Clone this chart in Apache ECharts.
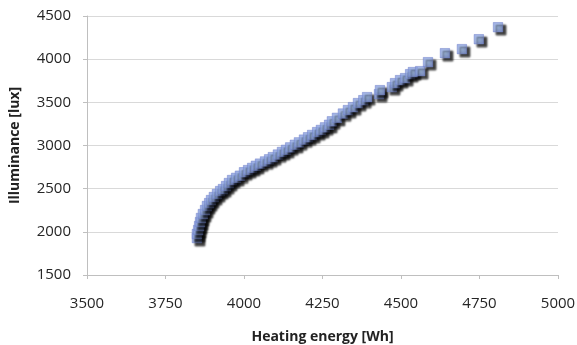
<!DOCTYPE html>
<html>
<head>
<meta charset="utf-8">
<script src="https://cdn.jsdelivr.net/npm/echarts@6/dist/echarts.min.js"></script>
<style>
  html, body { margin: 0; padding: 0; background: #fff; }
  #chart { width: 577px; height: 345px; }
</style>
</head>
<body>
<div id="chart"></div>
<script>
// values
var heatingEnergy = [
    3850, 3850, 3854, 3857, 3860, 3863, 3869, 3876, 3882, 3889,
    3895, 3904, 3914, 3924, 3933, 3943, 3952, 3962, 3975, 3987,
    4000, 4013, 4026, 4038, 4051, 4067, 4080, 4092, 4108, 4121,
    4134, 4147, 4162, 4175, 4191, 4204, 4217, 4233, 4245, 4258,
    4271, 4280, 4296, 4315, 4331, 4347, 4363, 4380, 4392, 4430,
    4433, 4471, 4481, 4497, 4513, 4529, 4538, 4561, 4586, 4640,
    4694, 4748, 4809
];
var illuminance = [
    1928, 1975, 2021, 2067, 2113, 2160, 2206, 2252, 2299, 2333,
    2368, 2403, 2438, 2472, 2495, 2530, 2565, 2600, 2625, 2650,
    2690, 2715, 2740, 2765, 2790, 2815, 2840, 2865, 2895, 2925,
    2950, 2978, 3008, 3036, 3068, 3095, 3122, 3155, 3180, 3210,
    3240, 3280, 3320, 3370, 3410, 3444, 3491, 3525, 3560, 3595,
    3641, 3676, 3722, 3757, 3780, 3826, 3850, 3861, 3965, 4069,
    4116, 4231, 4370
];
var xTicks = [3500, 3750, 4000, 4250, 4500, 4750, 5000];
var yTicks = [1500, 2000, 2500, 3000, 3500, 4000, 4500];

var points = [];
for (var i = 0; i < heatingEnergy.length; i++) {
    points.push([heatingEnergy[i], illuminance[i]]);
}

var font = '"Open Sans", "Liberation Sans", sans-serif';
// plain numbers, no thousands separator
function plain(v) { return String(v); }

var option = {
    animation: false,
    grid: {
        left: 87,
        right: 19,
        top: 16,
        bottom: 70,
        outerBoundsMode: 'none'
    },
    xAxis: {
        type: 'value',
        min: xTicks[0],
        max: xTicks[xTicks.length - 1],
        interval: 250,
        name: 'Heating energy [Wh]',
        nameLocation: 'middle',
        nameGap: 55,
        nameTextStyle: { color: '#222', fontFamily: font, fontSize: 14, fontWeight: 'bold' },
        axisLine: { lineStyle: { color: '#bfbfbf', width: 1 } },
        axisTick: { show: true, length: 4, lineStyle: { color: '#bfbfbf' } },
        axisLabel: { color: '#262626', fontFamily: font, fontSize: 15, margin: 21, formatter: plain },
        splitLine: { show: false }
    },
    yAxis: {
        type: 'value',
        min: yTicks[0],
        max: yTicks[yTicks.length - 1],
        interval: 500,
        name: 'Illuminance [lux]',
        nameLocation: 'middle',
        nameGap: 65,
        nameTextStyle: { color: '#222', fontFamily: font, fontSize: 14, fontWeight: 'bold' },
        axisLine: { show: true, lineStyle: { color: '#bfbfbf', width: 1 } },
        axisTick: { show: true, length: 4, lineStyle: { color: '#bfbfbf' } },
        axisLabel: { color: '#262626', fontFamily: font, fontSize: 15, margin: 16, formatter: plain },
        splitLine: { show: true, lineStyle: { color: '#d9d9d9', width: 1 } }
    },
    series: [
        {
            type: 'scatter',
            symbol: 'rect',
            symbolSize: 9.5,
            data: points,
            itemStyle: {
                color: {
                    type: 'radial', x: 0.5, y: 0.5, r: 0.7,
                    colorStops: [
                        { offset: 0, color: '#aac8f0' },
                        { offset: 1, color: '#7d8fd8' }
                    ]
                },
                borderColor: '#6f80c8',
                borderWidth: 0.6,
                shadowColor: 'rgba(0,0,0,0.95)',
                shadowBlur: 2,
                shadowOffsetX: 3,
                shadowOffsetY: 3
            }
        }
    ]
};

var chart = echarts.init(document.getElementById('chart'));
chart.setOption(option);
</script>
</body>
</html>
